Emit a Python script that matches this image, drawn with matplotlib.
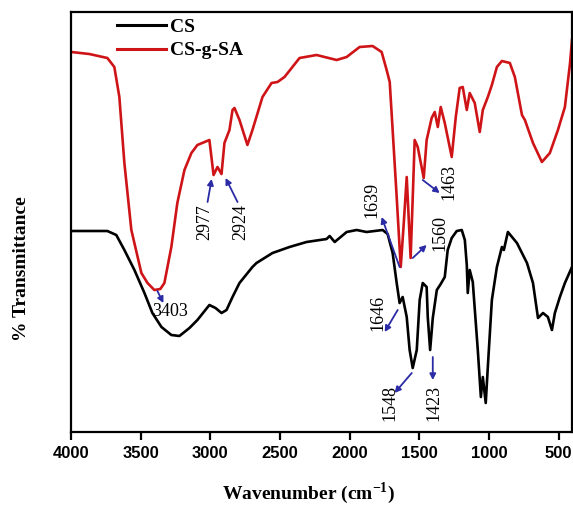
import matplotlib
matplotlib.use("Agg")
import matplotlib.pyplot as plt

plt.rcParams["mathtext.fontset"] = "custom"
plt.rcParams["mathtext.rm"] = "Liberation Serif"
plt.rcParams["mathtext.bf"] = "Liberation Serif:bold"

# CS-g-SA (red) spectrum: wavenumber (cm-1), transmittance (arb. units)
red_wn = [3998, 3869, 3739, 3689, 3653, 3617, 3567, 3495, 3451, 3402, 3359, 3330, 3280, 3237,
          3186, 3136, 3093, 3007, 2977, 2949, 2920, 2899, 2863, 2841, 2827, 2791, 2734, 2698,
          2626, 2561, 2518, 2468, 2360, 2238, 2094, 2022, 1929, 1836, 1771, 1735, 1713, 1692,
          1663, 1634, 1613, 1591, 1563, 1541, 1534, 1512, 1469, 1448, 1412, 1390, 1368, 1347,
          1318, 1268, 1239, 1211, 1189, 1160, 1139, 1103, 1067, 1045, 1009, 980, 944, 908, 851,
          815, 764, 743, 685, 621, 564, 506, 456, 419, 405]
red_t = [380, 378, 374, 365, 335, 269, 202, 159, 149, 142, 143, 149, 185, 229,
         262, 279, 287, 292, 257, 265, 258, 289, 302, 322, 324, 312, 287, 302,
         335, 349, 350, 355, 374, 377, 372, 375, 385, 386, 380, 362, 350, 302,
         235, 165, 207, 255, 174, 262, 292, 285, 254, 292, 314, 320, 305, 325,
         309, 275, 315, 344, 345, 322, 339, 329, 300, 322, 335, 347, 365, 371, 369,
         355, 317, 312, 289, 270, 279, 302, 325, 369, 392]

# CS (black) spectrum
blk_wn = [3998, 3739, 3675, 3617, 3545, 3473, 3416, 3351, 3280, 3222, 3150, 3093, 3007, 2963,
          2920, 2884, 2841, 2791, 2698, 2669, 2554, 2432, 2310, 2166, 2144, 2108, 2022, 1950,
          1879, 1764, 1728, 1692, 1663, 1642, 1620, 1591, 1570, 1548, 1519, 1498, 1476, 1448,
          1440, 1423, 1404, 1375, 1347, 1318, 1297, 1268, 1232, 1196, 1174, 1160, 1153, 1139,
          1117, 1081, 1059, 1045, 1024, 1009, 980, 944, 908, 894, 865, 800, 728, 685, 649,
          613, 578, 549, 528, 492, 456, 405]
blk_t = [201, 201, 197, 182, 162, 139, 119, 105, 97, 96, 104, 112, 127, 124,
         119, 122, 135, 149, 165, 169, 179, 185, 190, 193, 196, 190, 200, 202,
         200, 202, 198, 179, 149, 129, 135, 115, 82, 64, 82, 132, 149, 145,
         115, 82, 114, 142, 148, 155, 182, 194, 201, 202, 192, 167, 139, 162,
         150, 82, 35, 55, 29, 65, 132, 165, 185, 182, 200, 189, 169, 149, 114,
         119, 115, 102, 119, 135, 149, 165]

series_labels = ["CS", "CS-g-SA"]
xticks = [4000, 3500, 3000, 2500, 2000, 1500, 1000, 500]

# annotations: label, arrow tail (wn, T), arrow head (wn, T), text centre (wn, T), rotation
ann_labels = ["3403", "2977", "2924", "1639", "1560", "1463", "1646", "1548", "1423"]
ann_tail = [(3380, 141), (3020, 230), (2805, 230), (1642, 165), (1548, 174), (1476, 252),
            (1656, 122), (1555, 59), (1404, 75)]
ann_head = [(3337, 129), (2991, 253), (2891, 254), (1771, 215), (1448, 187), (1354, 239),
            (1749, 100), (1678, 39), (1404, 52)]
ann_text = [(3290, 120), (3042, 210), (2784, 210), (1843, 232), (1354, 199), (1290, 250),
            (1800, 119), (1713, 29), (1393, 29)]
ann_rot = [0, 90, 90, 90, 90, 90, 90, 90, 90]

fig = plt.figure(figsize=(5.73, 5.08), dpi=100)
ax = fig.add_axes([71 / 573, 1 - 432 / 508, (572 - 71) / 573, 420 / 508])

ax.plot(blk_wn, blk_t, color="black", lw=1.9, label=series_labels[0])
ax.plot(red_wn, red_t, color="#cf1418", lw=1.9, label=series_labels[1])

ax.set_xlim(4000, 405)
ax.set_ylim(0, 420)
ax.set_xticks(xticks)
ax.set_xticklabels([str(v) for v in xticks], fontfamily="Liberation Sans",
                   fontweight="bold", fontsize=12)
ax.set_yticks([])
ax.tick_params(axis="x", direction="out", length=6, width=1.6, pad=4)
for s in ax.spines.values():
    s.set_linewidth(1.6)

serif = "Liberation Serif"
ax.set_xlabel("Wavenumber (cm$^{\\mathbf{-1}}$)", fontfamily=serif, fontweight="bold",
              fontsize=14)
ax.xaxis.set_label_coords(0.475, -0.115)
ax.set_ylabel("% Transmittance", fontfamily=serif, fontweight="bold", fontsize=14)
ax.yaxis.set_label_coords(-0.082, 0.388)

arrow_col = "#2b2ba6"
for lab, t, h, tx, r in zip(ann_labels, ann_tail, ann_head, ann_text, ann_rot):
    ax.annotate("", xy=h, xytext=t,
                arrowprops=dict(arrowstyle="-|>,head_length=0.35,head_width=0.18",
                                color=arrow_col, lw=1.3, shrinkA=0, shrinkB=0))
    ax.text(tx[0], tx[1], lab, rotation=r, ha="center", va="center",
            fontfamily=serif, fontsize=13, color="black")

leg = ax.legend(loc="upper left", bbox_to_anchor=(0.092, 0.985), frameon=False,
                prop=dict(family=serif, weight="bold", size=14), handlelength=2.5,
                handletextpad=0.2, labelspacing=0.3, borderpad=0, borderaxespad=0)
for lh in leg.get_lines():
    lh.set_linewidth(2.2)

fig.savefig("out.png", dpi=100)
